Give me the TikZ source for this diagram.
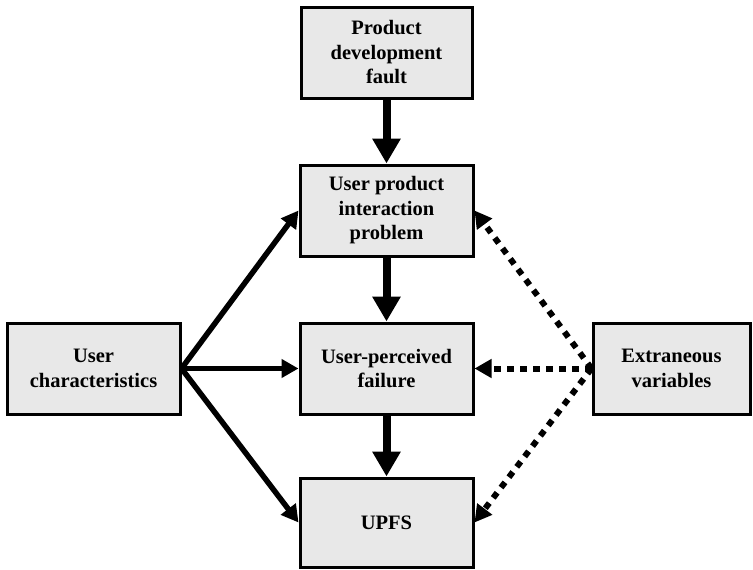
\documentclass[tikz,border=0pt]{standalone}
\usepackage{fontspec}
\setmainfont{Liberation Serif}
\usetikzlibrary{arrows.meta,backgrounds}
\begin{document}
\begin{tikzpicture}[x=1pt,y=-1pt,
  box/.style={draw=black,line width=3pt,fill=boxgray,align=center,inner sep=0pt,
    font=\fontsize{20.5}{24.5}\selectfont\bfseries,minimum height=91pt,minimum width=173pt},
  bigarrow/.style={line width=8pt,-{Triangle[length=25pt,width=27pt]}},
  ucarrow/.style={line width=5.5pt,-{Triangle[length=17pt,width=18pt]}},
  evarrow/.style={line width=6pt,dash pattern=on 6.5pt off 6.5pt,-{Triangle[length=17pt,width=18pt]}}]
\definecolor{boxgray}{HTML}{E8E8E8}
\useasboundingbox (0,0) rectangle (753,570);
\node[box,minimum width=171pt] (pdf) at (386.5,52.5) {Product\\development\\fault};
\node[box] (upi) at (386.5,210.5) {User product\\interaction\\problem};
\node[box] (uc) at (93.5,368.5) {User\\characteristics};
\node[box] (upf) at (386.5,368.5) {User-perceived\\failure};
\node[box,minimum width=157pt] (ev) at (671.5,368.5) {Extraneous\\variables};
\node[box,minimum height=89pt] (upfs) at (386.5,522.5) {UPFS};
\begin{scope}[on background layer]
\draw[bigarrow] (pdf.south) -- (upi.north);
\draw[bigarrow] (upi.south) -- (upf.north);
\draw[bigarrow] (upf.south) -- (upfs.north);
\draw[ucarrow] (uc.east) -- (upi.west);
\draw[ucarrow] (uc.east) -- (upf.west);
\draw[ucarrow] (uc.east) -- (upfs.west);
\draw[evarrow] (ev.west) -- (upi.east);
\draw[evarrow] (ev.west) -- (upf.east);
\draw[evarrow] (ev.west) -- (upfs.east);
\fill (ev.west) circle (3.5pt);
\end{scope}
\end{tikzpicture}
\end{document}
